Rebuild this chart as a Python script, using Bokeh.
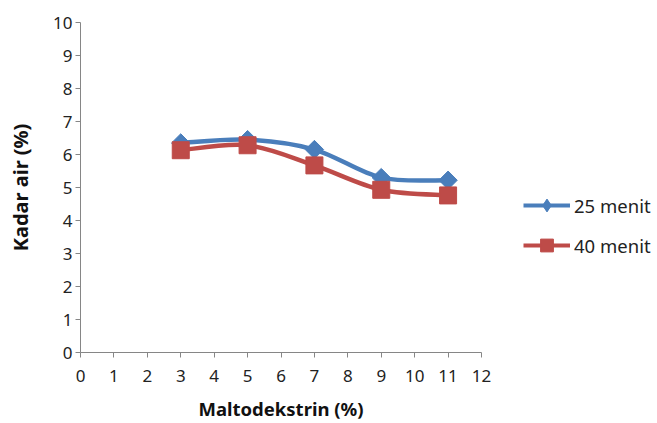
import math
from bokeh.plotting import figure
from bokeh.models import Range1d, Legend, LegendItem, ColumnDataSource, FixedTicker
from bokeh.embed import file_html
from bokeh.resources import INLINE

# Data
maltodekstrin = [3, 5, 7, 9, 11]
menit25 = [6.35, 6.45, 6.15, 5.30, 5.22]
menit40 = [6.13, 6.28, 5.67, 4.93, 4.76]
series_names = ["25 menit", "40 menit"]
x_ticks = list(range(0, 13))
y_ticks = list(range(0, 11))

BLUE = "#4A7EBB"
RED = "#BE4B48"
AXIS = "#868686"
FONT = "Noto Sans"

p = figure(width=657, height=423, output_backend="svg", toolbar_location=None,
           x_range=Range1d(0, 12), y_range=Range1d(0, 10),
           frame_width=401, frame_height=330,
           min_border_left=80, min_border_right=176, min_border_top=22, min_border_bottom=71)
p.outline_line_color = None
p.xgrid.grid_line_color = None
p.ygrid.grid_line_color = None

for ax in (p.xaxis[0], p.yaxis[0]):
    ax.axis_line_color = AXIS
    ax.major_tick_line_color = AXIS
    ax.minor_tick_line_color = None
    ax.major_tick_in = 0
    ax.major_tick_out = 5
    ax.major_label_text_font = FONT
    ax.major_label_text_font_size = "17px"
    ax.major_label_text_color = "#222222"
    ax.axis_label_text_font = FONT
    ax.axis_label_text_font_style = "bold"
    ax.axis_label_text_color = "#111111"

p.xaxis.axis_label_text_font_size = "18.5px"
p.yaxis.axis_label_text_font_size = "20px"
p.xaxis.ticker = FixedTicker(ticks=x_ticks)
p.yaxis.ticker = FixedTicker(ticks=y_ticks)
p.xaxis.axis_label = "Maltodekstrin (%)"
p.yaxis.axis_label = "Kadar air (%)"
p.xaxis.major_label_standoff = 12
p.yaxis.major_label_standoff = 3
p.xaxis.axis_label_standoff = 11
p.yaxis.axis_label_standoff = 16


def smooth_segments(xs, ys, t=1.0 / 6.0):
    x0, y0, x1, y1, cx0, cy0, cx1, cy1 = [], [], [], [], [], [], [], []
    n = len(xs)
    for i in range(n - 1):
        xp, yp = (xs[i - 1], ys[i - 1]) if i > 0 else (xs[i], ys[i])
        xn, yn = (xs[i + 2], ys[i + 2]) if i + 2 < n else (xs[i + 1], ys[i + 1])
        x0.append(xs[i]); y0.append(ys[i])
        x1.append(xs[i + 1]); y1.append(ys[i + 1])
        cx0.append(xs[i] + (xs[i + 1] - xp) * t)
        cy0.append(ys[i] + (ys[i + 1] - yp) * t)
        cx1.append(xs[i + 1] - (xn - xs[i]) * t)
        cy1.append(ys[i + 1] - (yn - ys[i]) * t)
    return dict(x0=x0, y0=y0, x1=x1, y1=y1, cx0=cx0, cy0=cy0, cx1=cx1, cy1=cy1)


NAN2 = [float("nan"), float("nan")]
items = []
for ys, color, marker, size, angle, legend_marker, name in [
    (menit25, BLUE, "square", 13, math.pi / 4, "diamond", series_names[0]),
    (menit40, RED, "square", 17, 0.0, "square", series_names[1]),
]:
    src = ColumnDataSource(smooth_segments(maltodekstrin, ys))
    p.bezier(x0="x0", y0="y0", x1="x1", y1="y1", cx0="cx0", cy0="cy0", cx1="cx1", cy1="cy1",
             source=src, line_color=color, line_width=4.5)
    p.scatter(maltodekstrin, ys, marker=marker, size=size, angle=angle,
              fill_color=color, line_color=color)
    lg_line = p.line(x=NAN2, y=NAN2, line_color=color, line_width=4)
    lg_mark = p.scatter(x=NAN2, y=NAN2, marker=legend_marker, size=size,
                        fill_color=color, line_color=color)
    items.append(LegendItem(label=name, renderers=[lg_line, lg_mark]))

legend = Legend(items=items, location=(42, 91), orientation="vertical")
legend.background_fill_alpha = 0
legend.border_line_color = None
legend.label_text_font = FONT
legend.label_text_font_size = "18.5px"
legend.label_text_color = "#222222"
legend.glyph_width = 47
legend.glyph_height = 32
legend.spacing = 8
legend.label_standoff = 4
legend.padding = 0
legend.margin = 0
p.add_layout(legend, "right")

open("out.html", "w").write(file_html(p, INLINE))
